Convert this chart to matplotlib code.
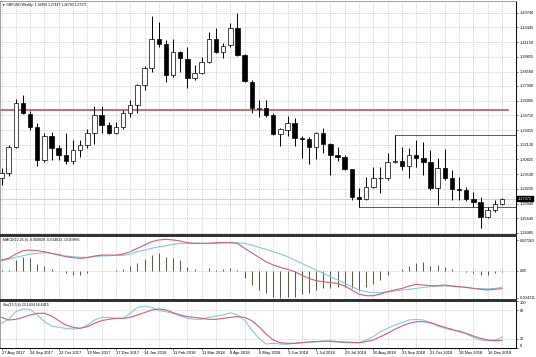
import matplotlib
matplotlib.use("Agg")
import matplotlib.pyplot as plt
import matplotlib.transforms as mtransforms

plt.rcParams["font.family"] = ["Liberation Sans", "DejaVu Sans"]

# ---------------- data ----------------
date_labels = ["27 Aug 2017", "24 Sep 2017", "22 Oct 2017", "19 Nov 2017", "17 Dec 2017",
               "14 Jan 2018", "11 Feb 2018", "11 Mar 2018", "8 Apr 2018", "6 May 2018",
               "3 Jun 2018", "1 Jul 2018", "29 Jul 2018", "26 Aug 2018", "23 Sep 2018",
               "21 Oct 2018", "18 Nov 2018", "16 Dec 2018"]

opens = [1.2920, 1.2960, 1.3192, 1.3579, 1.3483, 1.3372, 1.3075, 1.3289, 1.3180, 1.3120,
         1.3070, 1.3166, 1.3210, 1.3318, 1.3474, 1.3386, 1.3313, 1.3366, 1.3494, 1.3562,
         1.3738, 1.3885, 1.4140, 1.4096, 1.3826, 1.4031, 1.3964, 1.3797, 1.3846, 1.3943,
         1.4140, 1.4031, 1.4090, 1.4237, 1.4002, 1.3767, 1.3527, 1.3533, 1.3474, 1.3304,
         1.3342, 1.3401, 1.3271, 1.3260, 1.3195, 1.3313, 1.3219, 1.3122, 1.3107, 1.2996,
         1.2750, 1.2735, 1.2838, 1.2917, 1.2917, 1.3063, 1.3072, 1.3028, 1.3122, 1.3098,
         1.3063, 1.2829, 1.3005, 1.2917, 1.2823, 1.2816, 1.2732, 1.2711, 1.2579, 1.2638,
         1.26950]
highs = [1.3007, 1.3210, 1.3615, 1.3650, 1.3512, 1.3403, 1.3318, 1.3327, 1.3210, 1.3313,
         1.3254, 1.3254, 1.3348, 1.3553, 1.3553, 1.3415, 1.3415, 1.3518, 1.3606, 1.3747,
         1.3905, 1.4345, 1.4295, 1.4134, 1.4140, 1.4040, 1.4075, 1.3914, 1.3987, 1.4207,
         1.4237, 1.4110, 1.4286, 1.4374, 1.4011, 1.3782, 1.3606, 1.3606, 1.3489, 1.3362,
         1.3465, 1.3445, 1.3289, 1.3283, 1.3327, 1.3357, 1.3230, 1.3195, 1.3122, 1.3000,
         1.2831, 1.2931, 1.3019, 1.3019, 1.3137, 1.3298, 1.3195, 1.3181, 1.3254, 1.3239,
         1.3166, 1.3093, 1.3172, 1.2990, 1.2931, 1.2843, 1.2798, 1.2750, 1.2667, 1.2726,
         1.27447]
lows = [1.2858, 1.2937, 1.3183, 1.3483, 1.3342, 1.3025, 1.3063, 1.3078, 1.3078, 1.3043,
        1.3043, 1.3107, 1.3181, 1.3219, 1.3318, 1.3307, 1.3307, 1.3348, 1.3459, 1.3491,
        1.3694, 1.3855, 1.4072, 1.3767, 1.3811, 1.3855, 1.3709, 1.3782, 1.3835, 1.3929,
        1.4019, 1.3973, 1.4075, 1.3993, 1.3767, 1.3489, 1.3459, 1.3454, 1.3298, 1.3204,
        1.3289, 1.3204, 1.3093, 1.3043, 1.3084, 1.3137, 1.2946, 1.3072, 1.2990, 1.2726,
        1.2662, 1.2726, 1.2829, 1.2785, 1.2902, 1.3049, 1.2990, 1.2917, 1.3019, 1.2945,
        1.2814, 1.2682, 1.2902, 1.2726, 1.2726, 1.2720, 1.2667, 1.2477, 1.2565, 1.2623,
        1.26790]
closes = [1.2960, 1.3192, 1.3579, 1.3491, 1.3371, 1.3078, 1.3289, 1.3181, 1.3122, 1.3072,
          1.3166, 1.3210, 1.3318, 1.3474, 1.3386, 1.3313, 1.3366, 1.3494, 1.3562, 1.3738,
          1.3885, 1.4140, 1.4096, 1.3826, 1.4031, 1.3973, 1.3797, 1.3846, 1.3943, 1.4140,
          1.4031, 1.4081, 1.4237, 1.4002, 1.3776, 1.3533, 1.3535, 1.3474, 1.3304, 1.3348,
          1.3406, 1.3269, 1.3263, 1.3195, 1.3313, 1.3219, 1.3122, 1.3107, 1.2996, 1.2750,
          1.2735, 1.2838, 1.2917, 1.2919, 1.3063, 1.3073, 1.3028, 1.3122, 1.3098, 1.3063,
          1.2829, 1.3005, 1.2917, 1.2823, 1.2816, 1.2732, 1.2711, 1.2579, 1.2638, 1.2695,
          1.27371]

macd_hist = [0.0005, 0.0007, 0.0095, 0.0124, 0.0110, 0.0057, 0.0042, 0.0015, 0.0002, -0.0018,
             -0.0038, -0.0038, -0.0024, -0.0003, 0.0002, 0.0000, 0.0003, 0.0012, 0.0040, 0.0070,
             0.0100, 0.0140, 0.0160, 0.0124, 0.0110, 0.0095, 0.0036, 0.0015, 0.0002, 0.0024,
             0.0004, 0.0018, 0.0024, 0.0005, -0.0068, -0.0127, -0.0170, -0.0200, -0.0230, -0.0245,
             -0.0230, -0.0230, -0.0207, -0.0200, -0.0170, -0.0157, -0.0157, -0.0148, -0.0142, -0.0157,
             -0.0180, -0.0148, -0.0120, -0.0083, -0.0038, -0.0003, 0.0012, 0.0041, 0.0065, 0.0074,
             0.0041, 0.0047, 0.0036, 0.0012, 0.0002, -0.0010, -0.0024, -0.0038, -0.0038, -0.0024,
             -0.0008]
macd_red = [0.0095, 0.0110, 0.0148, 0.0178, 0.0184, 0.0178, 0.0169, 0.0154, 0.0139, 0.0125,
            0.0116, 0.0110, 0.0116, 0.0131, 0.0139, 0.0139, 0.0139, 0.0148, 0.0169, 0.0199,
            0.0228, 0.0258, 0.0273, 0.0279, 0.0273, 0.0264, 0.0249, 0.0243, 0.0243, 0.0243,
            0.0249, 0.0249, 0.0249, 0.0243, 0.0199, 0.0160, 0.0119, 0.0080, 0.0051, 0.0030,
            0.0012, -0.0009, -0.0038, -0.0068, -0.0089, -0.0097, -0.0106, -0.0112, -0.0136, -0.0171,
            -0.0207, -0.0222, -0.0222, -0.0207, -0.0186, -0.0171, -0.0157, -0.0136, -0.0121, -0.0127,
            -0.0133, -0.0133, -0.0127, -0.0136, -0.0142, -0.0148, -0.0157, -0.0165, -0.0171, -0.0165,
            -0.0159]
macd_cyan = [0.0089, 0.0101, 0.0119, 0.0133, 0.0148, 0.0154, 0.0160, 0.0154, 0.0145, 0.0131,
             0.0125, 0.0119, 0.0119, 0.0125, 0.0131, 0.0133, 0.0136, 0.0136, 0.0148, 0.0169,
             0.0184, 0.0199, 0.0213, 0.0222, 0.0234, 0.0243, 0.0243, 0.0243, 0.0243, 0.0243,
             0.0243, 0.0249, 0.0249, 0.0249, 0.0243, 0.0228, 0.0207, 0.0190, 0.0169, 0.0148,
             0.0125, 0.0095, 0.0065, 0.0036, 0.0006, -0.0023, -0.0053, -0.0083, -0.0112, -0.0142,
             -0.0171, -0.0186, -0.0195, -0.0195, -0.0189, -0.0180, -0.0171, -0.0165, -0.0157, -0.0148,
             -0.0142, -0.0136, -0.0136, -0.0136, -0.0142, -0.0148, -0.0157, -0.0160, -0.0160, -0.0158,
             -0.0146]

stoch_cyan = [52.5, 61.0, 77.3, 83.0, 82.3, 70.2, 56.0, 46.8, 44.0, 41.8,
              40.4, 41.8, 48.9, 59.6, 65.2, 65.2, 63.1, 63.1, 73.8, 86.5,
              89.4, 86.5, 79.4, 77.3, 73.8, 68.1, 63.1, 61.0, 61.0, 65.2,
              68.1, 70.2, 75.2, 70.2, 59.6, 38.3, 20.6, 8.5, 9.9, 8.5,
              7.8, 9.9, 11.3, 12.8, 13.5, 14.9, 13.5, 12.8, 11.3, 11.3,
              11.3, 17.0, 24.1, 34.8, 41.8, 48.9, 53.9, 59.6, 61.0, 59.6,
              53.9, 46.8, 41.8, 38.3, 36.9, 29.8, 22.7, 17.0, 15.6, 17.0,
              23.1]
stoch_red = [65.2, 59.6, 61.0, 65.2, 70.2, 73.8, 73.8, 68.1, 58.2, 48.9,
             44.0, 41.8, 45.4, 52.5, 58.2, 61.0, 63.1, 63.1, 65.2, 70.2,
             75.2, 80.9, 83.0, 80.9, 75.2, 70.2, 66.7, 65.2, 63.1, 61.0,
             61.0, 63.1, 65.2, 66.7, 65.2, 58.2, 45.4, 30.0, 17.0, 11.3,
             9.9, 9.9, 11.3, 12.8, 13.5, 14.2, 14.9, 13.5, 12.8, 12.1,
             11.3, 13.5, 17.0, 24.1, 31.2, 39.7, 46.8, 52.5, 56.0, 56.0,
             53.9, 48.9, 44.0, 39.7, 34.8, 31.2, 25.5, 20.6, 17.0, 15.6,
             16.6]

price_ticks = [1.43740, 1.42445, 1.41150, 1.39855, 1.38560, 1.37300, 1.36005, 1.34710,
               1.33415, 1.32120, 1.30825, 1.29530, 1.28235, 1.26940, 1.25645, 1.24385]
macd_ticks = [0.027263, 0.0, -0.024211]
macd_tick_labels = ["0.027263", "0.00", "-0.024211"]
stoch_ticks = [100, 80, 20, 0]

red_level = 1.3520
box_top_level = 1.3300
box_bottom_level = 1.2662
box_top_start = 55
box_bottom_start = 50
red_level_end = 70.8
bid_price = 1.27371

title_main = "GBPUSD,Weekly  1.26950 1.27447 1.26790 1.27371"
title_macd = "MACD(12,26,9) -0.000828 -0.014632 -0.015866"
title_stoch = "Sto(15,5,4) 23.1434 16.6415"

# ---------------- layout ----------------
W, H = 536, 357
fig = plt.figure(figsize=(W / 100, H / 100), dpi=100)
fig.patch.set_facecolor("white")


def rect(top, bottom, left=0.0, right=516.0):
    return [left / W, 1 - bottom / H, (right - left) / W, (bottom - top) / H]


ax1 = fig.add_axes(rect(0.5, 235))
ax2 = fig.add_axes(rect(236.5, 300))
ax3 = fig.add_axes(rect(301, 348))

n = len(closes)
xs = list(range(n))
XMIN, XMAX = -1.5 / 7.15, (516 - 1.5) / 7.15
even_bars = list(range(0, 72, 2))
label_bars = list(range(0, 4 * len(date_labels), 4))

FS = 2.8
GRID_KW = dict(color="#b8b8b8", lw=0.5, ls=(0, (1.2, 1.6)))

for ax in (ax1, ax2, ax3):
    ax.set_xlim(XMIN, XMAX)
    ax.set_facecolor("white")
    ax.yaxis.tick_right()
    ax.tick_params(axis="y", which="major", direction="out", length=1.5, width=0.4,
                   labelsize=FS, pad=1.0, colors="black")
    ax.set_xticks(even_bars, minor=True)
    ax.grid(True, axis="x", which="minor", **GRID_KW)
    ax.tick_params(axis="x", which="minor", length=0)
    ax.spines["left"].set_color("#909090")
    ax.spines["left"].set_linewidth(0.6)
    ax.spines["right"].set_color("black")
    ax.spines["right"].set_linewidth(0.7)
    ax.set_axisbelow(True)

for ax in (ax1, ax2):
    ax.set_xticks([])

# ---------------- price panel ----------------
ax1.set_ylim(1.24182, 1.44814)
ax1.set_yticks(price_ticks)
ax1.set_yticklabels([f"{v:.5f}" for v in price_ticks])
ax1.grid(True, axis="y", which="major", **GRID_KW)
ax1.spines["top"].set_color("#909090")
ax1.spines["top"].set_linewidth(0.6)
ax1.spines["bottom"].set_color("#303030")
ax1.spines["bottom"].set_linewidth(1.4)

# horizontal drawn lines
ax1.plot([XMIN, red_level_end], [red_level, red_level], color="#b04a55", lw=1.1, zorder=2)
ax1.plot([box_top_start, XMAX], [box_top_level, box_top_level], color="#5a5a5a", lw=0.7, zorder=2)
ax1.plot([box_bottom_start, XMAX], [box_bottom_level, box_bottom_level], color="#5a5a5a", lw=0.7, zorder=2)
ax1.axhline(bid_price, color="#c5d3dc", lw=0.7, zorder=1)

# candles
body_w = 0.62
for i in xs:
    o, h, l, c = opens[i], highs[i], lows[i], closes[i]
    ax1.vlines(i, l, h, color="black", lw=0.7, zorder=3)
    lo, hi = min(o, c), max(o, c)
    bull = c >= o
    ax1.bar(i, max(hi - lo, 0.00012), bottom=lo, width=body_w,
            color="white" if bull else "black", edgecolor="black", lw=0.5, zorder=4)

ax1.text(0.004, 0.988, "\u25bc " + title_main, transform=ax1.transAxes, fontsize=2.4,
         va="top", ha="left", color="black", zorder=6)

# bid price box on right axis
trans = mtransforms.blended_transform_factory(ax1.transAxes, ax1.transData)
ax1.text(1.004, bid_price, f"{bid_price:.5f}", transform=trans, fontsize=FS, color="white",
         va="center", ha="left", zorder=7, clip_on=False,
         bbox=dict(facecolor="black", edgecolor="black", pad=0.5))

# ---------------- MACD panel ----------------
ax2.set_ylim(-0.0260, 0.0304)
ax2.vlines(xs, 0, macd_hist, color="#4f5a3e", lw=0.7, zorder=3)
ax2.plot(xs, macd_cyan, color="#86c9df", lw=0.8, zorder=4)
ax2.plot(xs, macd_red, color="#cf5f74", lw=0.8, zorder=5)
ax2.axhline(0, **GRID_KW)
ax2.set_yticks(macd_ticks)
ax2.set_yticklabels(macd_tick_labels)
ax2.tick_params(axis="y", labelsize=2.5)
for s in ("top", "bottom"):
    ax2.spines[s].set_color("#303030")
    ax2.spines[s].set_linewidth(1.4)
ax2.text(0.006, 0.975, title_macd, transform=ax2.transAxes, fontsize=2.6,
         va="top", ha="left", color="black", zorder=6)

# ---------------- Stochastic panel ----------------
ax3.set_ylim(0, 100)
ax3.plot(xs, stoch_cyan, color="#86c9df", lw=0.8, zorder=4)
ax3.plot(xs, stoch_red, color="#cf5f74", lw=0.8, zorder=5)
ax3.axhline(80, **GRID_KW)
ax3.axhline(20, **GRID_KW)
ax3.set_yticks(stoch_ticks)
ax3.set_yticklabels([str(v) for v in stoch_ticks])
labs = ax3.get_yticklabels()
labs[0].set_va("top")
labs[-1].set_va("bottom")
ax3.spines["top"].set_color("#303030")
ax3.spines["top"].set_linewidth(1.4)
ax3.spines["bottom"].set_color("black")
ax3.spines["bottom"].set_linewidth(0.7)
ax3.set_xticks(label_bars)
ax3.set_xticklabels(date_labels)
ax3.tick_params(axis="x", which="major", length=1.5, width=0.4, labelsize=3.0, pad=0.8,
                direction="out")
for t in ax3.get_xticklabels():
    t.set_ha("left")
ax3.text(0.006, 0.95, title_stoch, transform=ax3.transAxes, fontsize=2.6,
         va="top", ha="left", color="black", zorder=6)

fig.savefig("out.png", dpi=100, facecolor="white")
